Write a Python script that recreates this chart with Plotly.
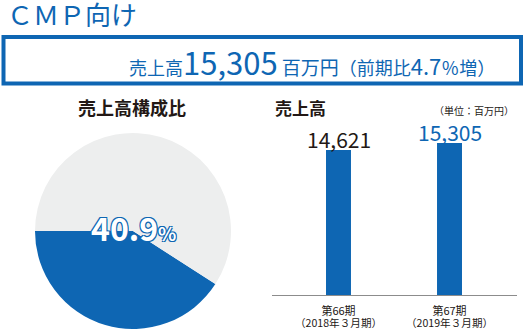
import plotly.graph_objects as go

W, H = 526, 329
BLUE = "#0e66b3"
GRAY = "#edeeee"
DARK = "#231815"
FONT = "Noto Sans CJK JP"

# ---- data ----
share_labels = ["CMP向け", "その他"]
share_values = [40.9, 59.1]
periods = ["第66期", "第67期"]
period_sub = ["（2018年３月期）", "（2019年３月期）"]
sales = [14621, 15305]
sales_text = ["14,621", "15,305"]
label_colors = [DARK, BLUE]


def px(x):
    return x / W


def py(y):
    return 1 - y / H


fig = go.Figure()

fig.add_trace(go.Pie(
    labels=share_labels,
    values=share_values,
    marker=dict(colors=[BLUE, GRAY], line=dict(width=0)),
    sort=False,
    direction="clockwise",
    rotation=122.8,
    textinfo="none",
    hoverinfo="skip",
    showlegend=False,
    domain=dict(x=[px(35), px(231)], y=[py(329), py(133)]),
))

fig.add_trace(go.Bar(
    x=[0, 1],
    y=sales,
    width=0.225,
    marker=dict(color=BLUE, line=dict(width=0)),
    hoverinfo="skip",
    showlegend=False,
))

fig.update_layout(
    width=W, height=H,
    margin=dict(l=0, r=0, t=0, b=0),
    paper_bgcolor="white",
    plot_bgcolor="rgba(0,0,0,0)",
    font=dict(family=FONT, color=DARK),
    xaxis=dict(
        domain=[px(272), px(517)],
        range=[-0.599, 1.608],
        tickvals=[0, 1],
        ticktext=periods,
        tickfont=dict(size=11, color=DARK),
        ticklabelstandoff=6,
        showgrid=False, zeroline=False,
        showline=True, linecolor="#8c8c8c", linewidth=1,
        ticks="", fixedrange=True,
    ),
    yaxis=dict(
        domain=[py(295), py(100)],
        range=[0, 19648],
        visible=False,
        showgrid=False, zeroline=False,
    ),
    shapes=[
        dict(type="rect", xref="paper", yref="paper",
             x0=px(3.5), x1=px(521), y0=py(83.5), y1=py(37),
             line=dict(color=BLUE, width=4)),
    ],
)

ann = []
for i, (v, t, c) in enumerate(zip(sales, sales_text, label_colors)):
    ann.append(dict(text=t, x=i, y=v, xref="x", yref="y", xanchor="center", yanchor="bottom",
                    yshift=-6, font=dict(size=21, color=c, family=FONT)))
for i, s in enumerate(period_sub):
    ann.append(dict(text=s, x=i, y=py(322), xref="x", yref="paper", xanchor="center",
                    yanchor="middle", borderpad=0, font=dict(size=10.6, color=DARK, family=FONT)))
ann.append(dict(text="ＣＭＰ向け", x=px(5), y=py(14), xanchor="left", yanchor="middle",
                font=dict(size=26, color=BLUE, family=FONT)))
ann.append(dict(
    text="売上高<span style='font-size:31px'>15,305</span> <span style='font-size:19px'>百万円</span>"
         "（前期比<span style='font-size:22px'>4.7</span>％増）",
    x=px(127), y=py(61), xanchor="left", yanchor="middle",
    font=dict(size=18, color=BLUE, family=FONT)))
ann.append(dict(text="<b>売上高構成比</b>", x=px(132), y=py(107), xanchor="center", yanchor="middle",
                font=dict(size=18, color=DARK, family=FONT)))
ann.append(dict(text="<b>売上高</b>", x=px(273), y=py(108), xanchor="left", yanchor="middle",
                font=dict(size=17, color=DARK, family=FONT)))
ann.append(dict(text="（単位：百万円）", x=px(516), y=py(110), xanchor="right", yanchor="middle",
                font=dict(size=10, color=DARK, family=FONT)))
ann.append(dict(text="<b>40.9</b><span style='font-size:19px'><b>%</b></span>", x=px(133), y=py(227),
                xanchor="center", yanchor="middle",
                font=dict(size=32, color="white", family=FONT,
                          shadow=f"1px 1px 0 {BLUE}, -1px -1px 0 {BLUE}, 1px -1px 0 {BLUE}, -1px 1px 0 {BLUE}")))
for a in ann:
    a.setdefault("xref", "paper")
    a.setdefault("yref", "paper")
    a["showarrow"] = False
fig.update_layout(annotations=ann)

fig.write_html("out.html")
